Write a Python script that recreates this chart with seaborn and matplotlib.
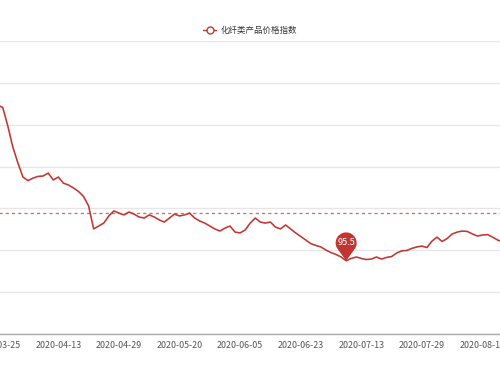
import numpy as np
import pandas as pd
import matplotlib
matplotlib.use("Agg")
import matplotlib.pyplot as plt
from matplotlib.path import Path
from matplotlib.patches import PathPatch
from matplotlib.transforms import Affine2D, ScaledTranslation
import seaborn as sns

# Chart data
series_name = "化纤类产品价格指数"
holidays = ["2020-04-06", "2020-05-01", "2020-05-04", "2020-05-05",
            "2020-06-25", "2020-06-26"]
dates = [d.strftime("%Y-%m-%d") for d in pd.bdate_range("2020-03-25", "2020-08-20")
         if d.strftime("%Y-%m-%d") not in holidays]
values = [
    102.94, 102.82, 101.94, 100.93, 100.17, 99.50, 99.33, 99.45, 99.53, 99.55,
    99.69, 99.36, 99.50, 99.21, 99.12, 98.98, 98.81, 98.57, 98.12, 97.02,
    97.16, 97.30, 97.64, 97.88, 97.78, 97.69, 97.83, 97.73, 97.59, 97.54,
    97.69, 97.59, 97.45, 97.35, 97.54, 97.73, 97.64, 97.69, 97.78, 97.54,
    97.40, 97.30, 97.16, 97.02, 96.92, 97.06, 97.16, 96.87, 96.83, 96.97,
    97.30, 97.54, 97.35, 97.30, 97.35, 97.11, 97.02, 97.21, 97.02, 96.83,
    96.66, 96.49, 96.32, 96.23, 96.16, 96.01, 95.89, 95.80, 95.68, 95.50,
    95.61, 95.68, 95.61, 95.56, 95.58, 95.68, 95.58, 95.66, 95.70, 95.87,
    95.97, 95.99, 96.09, 96.16, 96.20, 96.13, 96.44, 96.63, 96.42, 96.56,
    96.78, 96.87, 96.92, 96.90, 96.78, 96.68, 96.73, 96.75, 96.63, 96.49,
    96.40,
]
average_value = 97.78
y_ticks = [92, 94, 96, 98, 100, 102, 104, 106]
label_every = 12

red = "#c23531"
df = pd.DataFrame({"date": dates, "value": values})
df["idx"] = np.arange(len(df))

sns.set_theme(style="white")
plt.rcParams["font.family"] = ["Noto Sans CJK SC", "DejaVu Sans"]

fig = plt.figure(figsize=(5, 3.75), dpi=100)
# plot area is wider than the canvas: the picture is a crop of a bigger chart
ax = fig.add_axes([-2.3 / 500, 41 / 375, 505 / 500, 293 / 375])

sns.lineplot(data=df, x="idx", y="value", ax=ax, color=red, linewidth=1.15,
             legend=False)

ax.set_xlim(0, len(df) - 1)
ax.set_ylim(y_ticks[0], y_ticks[-1])
ax.set_yticks(y_ticks)
ax.yaxis.grid(True, color="#e6e6e6", linewidth=1)
ax.set_xticks(df["idx"][::label_every])
ax.set_xticklabels(df["date"][::label_every], fontsize=6.4, color="#555555")
ax.tick_params(axis="x", direction="out", length=3, width=0.8, color="#999999", pad=2)
ax.tick_params(axis="y", length=0, labelsize=6.4, labelcolor="#555555")
for side in ["top", "right", "left"]:
    ax.spines[side].set_visible(False)
ax.spines["bottom"].set_color("#aaaaaa")
ax.spines["bottom"].set_linewidth(1)
ax.set_xlabel("")
ax.set_ylabel("")

# average mark line
ax.axhline(average_value, color=red, linestyle=(0, (2.5, 2.5)), linewidth=0.9, alpha=0.75)

# min mark point drawn as a pin (tip on the point, round head above)
c, r = 1.7, 1.0
beta = np.degrees(np.arccos(r / c))
angles = np.radians(np.linspace(-90 + beta, 270 - beta, 60))
pin_verts = [(0, 0)] + [(r * np.cos(a), c + r * np.sin(a)) for a in angles] + [(0, 0)]
pin_path = Path(pin_verts, closed=True)
head_px = 10.5
imin = int(np.argmin(values))
pin_tr = (Affine2D().scale(head_px / fig.dpi) + fig.dpi_scale_trans +
          ScaledTranslation(imin, values[imin], ax.transData))
ax.add_patch(PathPatch(pin_path, facecolor=red, edgecolor="none",
                       transform=pin_tr, zorder=5, clip_on=False))
ax.annotate(f"{values[imin]:.1f}", (imin, values[imin]),
            xytext=(0, c * head_px * 72 / fig.dpi), textcoords="offset points",
            ha="center", va="center", color="white", fontsize=6.6, zorder=6)

# legend
handle = plt.Line2D([], [], color=red, linewidth=1, marker="o", markersize=5,
                    markerfacecolor="white", markeredgecolor=red)
fig.legend([handle], [series_name], loc="center", bbox_to_anchor=(0.5, 1 - 30 / 375),
           frameon=False, fontsize=6.1, handlelength=1.6, handletextpad=0.5,
           labelcolor="#333333")

fig.savefig("out.png", dpi=100)
